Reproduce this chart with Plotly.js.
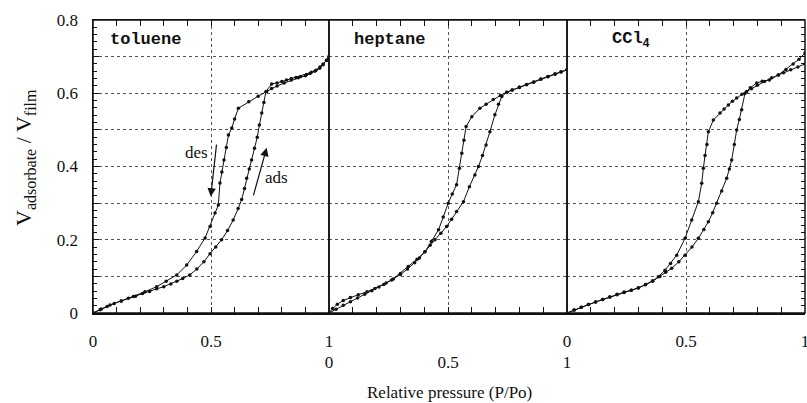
<!DOCTYPE html>
<html><head><meta charset="utf-8">
<script src="https://cdn.plot.ly/plotly-3.0.1.min.js"></script>
<style>html,body{margin:0;padding:0;background:#fff}</style>
</head><body><div id="chart" style="width:807px;height:403px"></div>
<script>
// ---- data ----
const panelNames = ["toluene", "heptane", "CCl<sub>4</sub>"];
const xTickVals = [0, 0.5, 1];
const xTickText = ["0", "0.5", "1"];
const yTickVals = [0, 0.1, 0.2, 0.3, 0.4, 0.5, 0.6, 0.7, 0.8];
const yTickText = ["0", "", "0.2", "", "0.4", "", "0.6", "", "0.8"];

// toluene
const tolAdsX = [0,0.03,0.06,0.09,0.12,0.15,0.18,0.21,0.24,0.27,0.30,0.33,0.355,0.38,0.41,0.44,0.47,0.496,0.52,0.545,0.57,0.594,0.615,0.63,0.642,0.651,0.662,0.672,0.684,0.696,0.705,0.715,0.724,0.733,0.757,0.78,0.80,0.82,0.84,0.86,0.88,0.905,0.925,0.945,0.962,0.975,0.99,1.0];
const tolAdsY = [0,0.009,0.018,0.026,0.033,0.040,0.046,0.053,0.059,0.066,0.072,0.079,0.087,0.094,0.104,0.12,0.14,0.162,0.18,0.20,0.225,0.254,0.285,0.31,0.34,0.368,0.393,0.418,0.45,0.48,0.513,0.546,0.575,0.605,0.625,0.628,0.632,0.636,0.64,0.643,0.646,0.651,0.657,0.663,0.672,0.68,0.69,0.70];
const tolDesX = [1.0,0.99,0.975,0.96,0.94,0.92,0.90,0.87,0.84,0.81,0.78,0.757,0.736,0.70,0.66,0.616,0.60,0.588,0.574,0.565,0.555,0.546,0.538,0.531,0.517,0.496,0.475,0.439,0.397,0.355,0.31,0.27,0.22,0.171,0.12,0.072,0.035,0];
const tolDesY = [0.70,0.69,0.678,0.668,0.66,0.654,0.648,0.642,0.636,0.628,0.62,0.613,0.605,0.592,0.577,0.559,0.53,0.505,0.486,0.452,0.418,0.385,0.355,0.295,0.273,0.236,0.205,0.168,0.131,0.104,0.087,0.072,0.058,0.045,0.033,0.022,0.011,0];

// heptane
const hepAdsX = [0,0.03,0.06,0.09,0.12,0.15,0.18,0.21,0.24,0.27,0.30,0.33,0.36,0.38,0.403,0.425,0.445,0.47,0.494,0.515,0.536,0.565,0.59,0.613,0.628,0.645,0.66,0.676,0.697,0.712,0.726,0.747,0.77,0.80,0.83,0.86,0.89,0.92,0.95,0.975,1.0];
const hepAdsY = [0,0.01,0.021,0.031,0.041,0.051,0.061,0.071,0.082,0.093,0.105,0.12,0.137,0.15,0.167,0.185,0.20,0.218,0.236,0.256,0.277,0.304,0.345,0.377,0.40,0.43,0.459,0.495,0.541,0.57,0.591,0.603,0.609,0.617,0.624,0.631,0.639,0.646,0.653,0.659,0.664];
const hepDesX = [1.0,0.975,0.95,0.92,0.89,0.86,0.83,0.80,0.77,0.747,0.72,0.69,0.66,0.634,0.60,0.576,0.567,0.558,0.548,0.536,0.518,0.501,0.48,0.46,0.43,0.403,0.37,0.333,0.30,0.263,0.23,0.193,0.16,0.123,0.09,0.06,0.035,0.015,0];
const hepDesY = [0.664,0.658,0.652,0.645,0.638,0.63,0.623,0.616,0.609,0.603,0.594,0.583,0.57,0.559,0.536,0.509,0.472,0.436,0.395,0.35,0.325,0.30,0.262,0.227,0.195,0.167,0.147,0.127,0.108,0.09,0.078,0.067,0.058,0.05,0.042,0.034,0.024,0.012,0];

// CCl4
const cclAdsX = [0,0.03,0.06,0.09,0.12,0.15,0.18,0.21,0.24,0.27,0.30,0.33,0.36,0.39,0.415,0.44,0.47,0.496,0.525,0.552,0.575,0.594,0.612,0.629,0.65,0.671,0.682,0.692,0.703,0.713,0.724,0.734,0.748,0.77,0.797,0.82,0.85,0.888,0.92,0.95,0.975,1.0];
const cclAdsY = [0,0.008,0.016,0.023,0.03,0.037,0.044,0.051,0.057,0.062,0.069,0.077,0.087,0.10,0.111,0.122,0.14,0.158,0.18,0.204,0.228,0.249,0.274,0.30,0.333,0.368,0.393,0.418,0.46,0.50,0.528,0.555,0.60,0.615,0.628,0.633,0.636,0.65,0.665,0.68,0.693,0.71];
const cclDesX = [1.0,0.97,0.94,0.91,0.888,0.86,0.83,0.80,0.775,0.755,0.735,0.713,0.695,0.678,0.66,0.643,0.615,0.594,0.588,0.58,0.573,0.566,0.552,0.524,0.496,0.461,0.435,0.412,0.384,0.36,0.33,0.30,0.27,0.24,0.21,0.18,0.15,0.12,0.09,0.06,0.03,0];
const cclDesY = [0.68,0.672,0.664,0.656,0.65,0.642,0.632,0.622,0.612,0.605,0.597,0.587,0.578,0.568,0.557,0.546,0.527,0.495,0.46,0.43,0.395,0.354,0.304,0.254,0.204,0.158,0.135,0.117,0.099,0.088,0.078,0.068,0.062,0.056,0.05,0.044,0.037,0.03,0.023,0.016,0.008,0];

// ---- traces ----
const serif = "Liberation Serif, Times New Roman, serif";
const mono = "Liberation Mono, Courier New, monospace";
function tr(x, y, xa) {
  return {x: x, y: y, xaxis: xa, yaxis: "y", type: "scatter", mode: "lines+markers",
    line: {color: "#111", width: 1}, marker: {color: "#111", size: 3.5},
    hoverinfo: "skip", showlegend: false};
}
const data = [
  tr(tolAdsX, tolAdsY, "x"), tr(tolDesX, tolDesY, "x"),
  tr(hepAdsX, hepAdsY, "x2"), tr(hepDesX, hepDesY, "x2"),
  tr(cclAdsX, cclAdsY, "x3"), tr(cclDesX, cclDesY, "x3"),
  {x: [0.5], y: [0.4], xaxis: "x3", yaxis: "y2", type: "scatter", mode: "markers",
   marker: {opacity: 0}, hoverinfo: "skip", showlegend: false}
];

// ---- layout ----
const d1 = 236 / 712, d2 = 474 / 712;
function xax(domain, standoff) {
  return {domain: domain, range: [0, 1], anchor: "y", tickmode: "array",
    tickvals: xTickVals, ticktext: xTickText, ticks: "inside", ticklen: 6, tickwidth: 1,
    tickcolor: "#111", ticklabelstandoff: standoff, ticklabeloverflow: "allow",
    minor: {dtick: 0.1, tick0: 0, ticks: "inside", ticklen: 6, tickcolor: "#111", showgrid: false},
    showgrid: true, gridcolor: "#555", griddash: "dot", gridwidth: 1,
    showline: true, linecolor: "#111", linewidth: 1.5, mirror: "ticks", zeroline: false,
    tickfont: {family: serif, size: 17, color: "#111"}, fixedrange: true};
}
const yMinor = {dtick: 0.02, tick0: 0, ticks: "inside", ticklen: 4, tickcolor: "#111", showgrid: false};
const layout = {
  width: 807, height: 403,
  margin: {l: 93, r: 2, t: 20, b: 90},
  paper_bgcolor: "#fff", plot_bgcolor: "#fff",
  xaxis: xax([0, d1], 12),
  xaxis2: xax([d1, d2], 33),
  xaxis3: xax([d2, 1], 12),
  yaxis: {domain: [0, 1], range: [0, 0.8], anchor: "x", tickmode: "array",
    tickvals: yTickVals, ticktext: yTickText, ticks: "inside", ticklen: 6, tickcolor: "#111",
    minor: yMinor, ticklabelstandoff: 10,
    showgrid: true, gridcolor: "#555", griddash: "dot", gridwidth: 1,
    showline: true, linecolor: "#111", linewidth: 1.5, zeroline: false,
    tickfont: {family: serif, size: 17, color: "#111"}, fixedrange: true},
  yaxis2: {overlaying: "y", side: "right", anchor: "x3", range: [0, 0.8], tickmode: "array",
    tickvals: yTickVals, ticks: "inside", ticklen: 6, tickcolor: "#111", minor: yMinor,
    showticklabels: false, showgrid: false, zeroline: false, showline: false, fixedrange: true},
  shapes: ["x", "x2", "x3"].map(a => ({type: "rect", xref: a + " domain", yref: "y domain",
    x0: 0, x1: 1, y0: 0, y1: 1, line: {color: "#111", width: 1.5}})),
  annotations: [
    {xref: "x", yref: "y", x: 0.064, y: 0.746, xanchor: "left", yanchor: "middle", showarrow: false,
     text: "<b>" + panelNames[0] + "</b>", font: {family: mono, size: 17, color: "#111"}},
    {xref: "x2", yref: "y", x: 0.095, y: 0.746, xanchor: "left", yanchor: "middle", showarrow: false,
     text: "<b>" + panelNames[1] + "</b>", font: {family: mono, size: 17, color: "#111"}},
    {xref: "x3", yref: "y", x: 0.18, y: 0.746, xanchor: "left", yanchor: "middle", showarrow: false,
     text: "<b>" + panelNames[2] + "</b>", font: {family: mono, size: 17, color: "#111"}},
    {xref: "x", yref: "y", x: 0.44, y: 0.437, showarrow: false, text: "des",
     font: {family: serif, size: 17, color: "#111"}},
    {xref: "x", yref: "y", x: 0.778, y: 0.369, showarrow: false, text: "ads",
     font: {family: serif, size: 17, color: "#111"}},
    {xref: "x", yref: "y", x: 0.499, y: 0.318, axref: "x", ayref: "y", ax: 0.524, ay: 0.464,
     showarrow: true, arrowhead: 2, arrowsize: 1.4, arrowwidth: 1.2, arrowcolor: "#111", text: ""},
    {xref: "x", yref: "y", x: 0.736, y: 0.451, axref: "x", ayref: "y", ax: 0.678, ay: 0.317,
     showarrow: true, arrowhead: 2, arrowsize: 1.4, arrowwidth: 1.2, arrowcolor: "#111", text: ""},
    {xref: "paper", yref: "paper", x: 0.5, y: -0.273, xanchor: "center", yanchor: "middle",
     showarrow: false, text: "Relative pressure (P/Po)", font: {family: serif, size: 17, color: "#111"}},
    {xref: "paper", yref: "paper", x: -0.0955, y: 0.529, xanchor: "center", yanchor: "middle",
     showarrow: false, textangle: -90,
     text: 'V<sub><span style="font-size:16px">adsorbate</span></sub> / V<sub><span style="font-size:16px">film</span></sub>',
     font: {family: serif, size: 22, color: "#111"}}
  ]
};
Plotly.newPlot("chart", data, layout, {displayModeBar: false, staticPlot: true});
</script></body></html>
